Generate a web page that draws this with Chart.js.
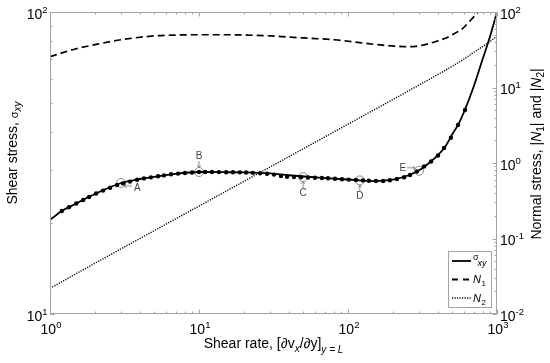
<!doctype html>
<html>

<head>
    <meta charset="utf-8">
    <title>Shear stress</title>
    <script src="https://cdn.jsdelivr.net/npm/chart.js"></script>
    <style>
        body { margin: 0; background: #fff; }
        #wrap { width: 550px; height: 363px; }
    </style>
</head>

<body>
    <div id="wrap"><canvas id="grafico"></canvas></div>

    <script>
        // shear stress curve (left axis)
        var sigmaX = [1, 1.2, 1.5, 2, 3, 4, 5, 7, 10, 15, 20, 25, 30, 40, 60, 80, 100, 150, 200, 250, 300, 350, 400, 450, 500, 550, 600, 700, 800, 900, 1000];
        var sigmaLinha = [20.48, 21.94, 23.22, 24.97, 27.15, 27.99, 28.44, 29.12, 29.53, 29.48, 29.43, 29.35, 29.2, 28.8, 28.35, 28.07, 27.88, 27.56, 27.86, 28.69, 29.9, 31.64, 33.49, 35.86, 39.3, 42.45, 46.58, 56.9, 69.7, 83.3, 100];

        // simulation points on the shear stress curve
        var pontosX = [1.2, 1.34, 1.5, 1.67, 1.83, 2.04, 2.27, 2.53, 2.82, 3.09, 3.44, 3.84, 4.27, 4.76, 5.31, 5.82, 6.49, 7.23, 8.05, 8.97,
            10, 11, 12.2, 13.6, 15.2, 16.9, 18.8, 20.7, 23, 25.7, 28.6, 31.9, 35.5, 39, 43.4, 48.4, 53.9, 60, 66.9, 73.4,
            81.8, 91.1, 101, 113, 126, 138, 154, 172, 191, 213, 238, 261, 290, 324, 361, 402, 441, 491, 547, 610];
        var pontosSigma = [21.94, 22.57, 23.22, 23.85, 24.4, 25.06, 25.62, 26.17, 26.74, 27.07, 27.44, 27.82, 28.12, 28.35, 28.58, 28.77, 29.02, 29.17, 29.29, 29.42,
            29.53, 29.53, 29.52, 29.5, 29.48, 29.46, 29.45, 29.42, 29.33, 29.26, 29.15, 28.95, 28.64, 28.49, 28.42, 28.36, 28.31, 28.25, 28.2, 28.14,
            28.05, 27.95, 27.86, 27.78, 27.69, 27.63, 27.56, 27.56, 27.73, 27.99, 28.38, 28.86, 29.64, 30.81, 31.99, 33.49, 35.46, 38.35, 42.26, 47.36];

        // normal stresses (right axis)
        var n1X = [1, 1.5, 2, 3, 5, 7, 10, 15, 20, 30, 50, 85, 120, 165, 210, 260, 300, 355, 400, 460, 520, 590, 660, 735, 750];
        var n1 = [25.6, 32.6, 36.9, 42.9, 48.2, 49.5, 50, 50, 49.5, 48.3, 45.3, 42.6, 39.2, 36.6, 35.3, 34.7, 35.6, 38.5, 41.5, 45.7, 52, 60.8, 76.4, 96, 100];
        var n2X = [1, 2, 5, 10, 20, 50, 100, 200, 300, 400, 500, 600, 700, 800, 900, 1000];
        var n2 = [0.0219, 0.0469, 0.127, 0.269, 0.57, 1.54, 3.27, 6.93, 10.8, 14.8, 19.1, 23.8, 29.3, 34.8, 40.8, 47.8];

        // marked states A-E
        var marcaNomes = ['A', 'B', 'C', 'D', 'E'];
        var marcaX = [3, 10, 50, 120, 300];
        var marcaY = [27.15, 29.53, 28.4, 27.7, 29.8];

        // tick labels (10^n)
        var xTicks = [1, 10, 100, 1000];
        var xExp = ['0', '1', '2', '3'];
        var yTicks = [10, 100];
        var yExp = ['1', '2'];
        var y2Ticks = [0.01, 0.1, 1, 10, 100];
        var y2Exp = ['-2', '-1', '0', '1', '2'];

        var FONTE = '"Liberation Sans", Arial, sans-serif';
        var CINZA = '#a4a4a4';

        function pares(xs, ys) {
            return xs.map(function (x, i) { return { x: x, y: ys[i] }; });
        }

        function potencia(ctx, exp, x, y, alinha) {
            ctx.font = '14px ' + FONTE;
            var w1 = ctx.measureText('10').width;
            ctx.font = '9.5px ' + FONTE;
            var w2 = ctx.measureText(exp).width;
            var x0 = alinha == 'center' ? x - (w1 + w2) / 2 : (alinha == 'right' ? x - w1 - w2 : x);
            ctx.font = '14px ' + FONTE;
            ctx.fillText('10', x0, y);
            ctx.font = '9.5px ' + FONTE;
            ctx.fillText(exp, x0 + w1, y - 6);
        }

        // parts: [text, size, style, dy]
        function textoRico(ctx, partes, x, y) {
            var total = 0;
            partes.forEach(function (p) {
                ctx.font = (p[2] || '') + ' ' + p[1] + 'px ' + FONTE;
                total += ctx.measureText(p[0]).width;
            });
            var cx = x - total / 2;
            partes.forEach(function (p) {
                ctx.font = (p[2] || '') + ' ' + p[1] + 'px ' + FONTE;
                ctx.fillText(p[0], cx, y + (p[3] || 0));
                cx += ctx.measureText(p[0]).width;
            });
        }

        function seta(ctx, x1, y1, x2, y2) {
            var a = Math.atan2(y2 - y1, x2 - x1);
            ctx.beginPath();
            ctx.moveTo(x1, y1);
            ctx.lineTo(x2, y2);
            ctx.moveTo(x2 - 3 * Math.cos(a - 0.6), y2 - 3 * Math.sin(a - 0.6));
            ctx.lineTo(x2, y2);
            ctx.lineTo(x2 - 3 * Math.cos(a + 0.6), y2 - 3 * Math.sin(a + 0.6));
            ctx.stroke();
        }

        function marcasLog(min, max) {
            var lista = [];
            for (var d = min; d < max * 1.001; d *= 10) {
                for (var m = 1; m <= 9; m++) {
                    var v = m * d;
                    if (v > max * 1.001) break;
                    lista.push({ v: v, major: m == 1 });
                }
            }
            return lista;
        }

        var moldura = {
            id: 'moldura',
            afterDraw: function (chart) {
                var ctx = chart.ctx;
                var a = chart.chartArea;
                var sx = chart.scales.x, sy = chart.scales.y, sy2 = chart.scales.y2;
                ctx.save();

                // frame and inward ticks
                ctx.strokeStyle = CINZA;
                ctx.lineWidth = 1;
                ctx.setLineDash([]);
                ctx.strokeRect(a.left + 0.5, a.top + 0.5, a.right - a.left - 1, a.bottom - a.top - 1);
                ctx.beginPath();
                marcasLog(1, 1000).forEach(function (t) {
                    var p = Math.round(sx.getPixelForValue(t.v)) + 0.5;
                    var L = t.major ? 4.5 : 2.5;
                    ctx.moveTo(p, a.bottom); ctx.lineTo(p, a.bottom - L);
                    ctx.moveTo(p, a.top); ctx.lineTo(p, a.top + L);
                });
                marcasLog(10, 100).forEach(function (t) {
                    var p = Math.round(sy.getPixelForValue(t.v)) + 0.5;
                    ctx.moveTo(a.left, p); ctx.lineTo(a.left + (t.major ? 4.5 : 2.5), p);
                });
                marcasLog(0.01, 100).forEach(function (t) {
                    var p = Math.round(sy2.getPixelForValue(t.v)) + 0.5;
                    ctx.moveTo(a.right, p); ctx.lineTo(a.right - (t.major ? 4.5 : 2.5), p);
                });
                ctx.stroke();

                // tick labels
                ctx.fillStyle = '#000';
                ctx.textAlign = 'left';
                ctx.textBaseline = 'alphabetic';
                xTicks.forEach(function (v, i) {
                    potencia(ctx, xExp[i], sx.getPixelForValue(v) + 1, a.bottom + 20, 'center');
                });
                yTicks.forEach(function (v, i) {
                    potencia(ctx, yExp[i], a.left - 2.5, sy.getPixelForValue(v) + 7, 'right');
                });
                y2Ticks.forEach(function (v, i) {
                    potencia(ctx, y2Exp[i], a.right + 3, sy2.getPixelForValue(v) + 6.5, 'left');
                });

                // axis titles
                textoRico(ctx, [['Shear rate, [\u2202v', 14], ['x', 10, 'italic', 4], ['/\u2202y]', 14], ['y = L', 10, 'italic', 5]],
                    (a.left + a.right) / 2, a.bottom + 34);
                ctx.save();
                ctx.translate(17, 153);
                ctx.rotate(-Math.PI / 2);
                textoRico(ctx, [['Shear stress, ', 14], ['\u03c3', 11, '', 1], ['xy', 10, 'italic', 4]], 0, 0);
                ctx.restore();
                ctx.save();
                ctx.translate(541, 154);
                ctx.rotate(-Math.PI / 2);
                textoRico(ctx, [['Normal stress, |', 14], ['N', 14, 'italic'], ['1', 10, '', 3], ['| and |', 14], ['N', 14, 'italic'], ['2', 10, '', 3], ['|', 14]], 0, 0);
                ctx.restore();

                // legend
                var bx = 448.5, by = 251.5;
                ctx.fillStyle = '#fff';
                ctx.fillRect(bx, by, 43, 56);
                ctx.strokeStyle = CINZA;
                ctx.strokeRect(bx, by, 43, 56);
                ctx.strokeStyle = '#000';
                ctx.lineWidth = 1.8;
                ctx.beginPath(); ctx.moveTo(452, 261); ctx.lineTo(471, 261); ctx.stroke();
                ctx.setLineDash([6, 5]);
                ctx.beginPath(); ctx.moveTo(452, 279.5); ctx.lineTo(471, 279.5); ctx.stroke();
                ctx.lineWidth = 1.4;
                ctx.setLineDash([1.2, 1.3]);
                ctx.beginPath(); ctx.moveTo(452, 298); ctx.lineTo(471, 298); ctx.stroke();
                ctx.setLineDash([]);
                ctx.fillStyle = '#000';
                ctx.textAlign = 'left';
                ctx.font = '9px ' + FONTE;
                ctx.fillText('\u03c3', 473, 260);
                ctx.font = 'italic 9px ' + FONTE;
                ctx.fillText('xy', 477.5, 266);
                ctx.font = 'italic 11px ' + FONTE;
                ctx.fillText('N', 473, 283);
                ctx.fillText('N', 473, 302);
                ctx.font = '8px ' + FONTE;
                ctx.fillText('1', 481.5, 286);
                ctx.fillText('2', 481.5, 305);

                // labels of marked states
                var lados = ['direita', 'cima', 'baixo', 'baixo', 'esquerda'];
                ctx.strokeStyle = '#777';
                ctx.fillStyle = '#444';
                ctx.lineWidth = 0.8;
                ctx.font = '10px ' + FONTE;
                chart.getDatasetMeta(4).data.forEach(function (pt, i) {
                    var cx = pt.x, cy = pt.y;
                    if (lados[i] == 'direita') {
                        seta(ctx, cx + 11, cy + 3, cx + 3, cy + 3);
                        ctx.textAlign = 'left';
                        ctx.fillText(marcaNomes[i], cx + 13, cy + 7.5);
                    } else if (lados[i] == 'cima') {
                        seta(ctx, cx, cy - 11, cx, cy - 4.5);
                        ctx.textAlign = 'center';
                        ctx.fillText(marcaNomes[i], cx, cy - 12.5);
                    } else if (lados[i] == 'baixo') {
                        seta(ctx, cx, cy + 11, cx, cy + 4.5);
                        ctx.textAlign = 'center';
                        ctx.fillText(marcaNomes[i], cx, cy + 19);
                    } else {
                        seta(ctx, cx - 12, cy - 3, cx - 4, cy - 3);
                        ctx.textAlign = 'right';
                        ctx.fillText(marcaNomes[i], cx - 13, cy + 0.5);
                    }
                });
                ctx.restore();
            }
        };

        var grafico = new Chart(document.getElementById('grafico').getContext('2d'), {
            type: 'scatter',
            data: {
                datasets: [{
                    label: 'sigma_xy',
                    data: pares(sigmaX, sigmaLinha),
                    showLine: true,
                    borderColor: '#000',
                    borderWidth: 1.8,
                    pointRadius: 0,
                    cubicInterpolationMode: 'monotone',
                    yAxisID: 'y'
                }, {
                    label: 'N1',
                    data: pares(n1X, n1),
                    showLine: true,
                    borderColor: '#000',
                    borderWidth: 1.7,
                    borderDash: [7, 4],
                    pointRadius: 0,
                    cubicInterpolationMode: 'monotone',
                    yAxisID: 'y2'
                }, {
                    label: 'N2',
                    data: pares(n2X, n2),
                    showLine: true,
                    borderColor: '#000',
                    borderWidth: 1.4,
                    borderDash: [1.2, 1.3],
                    pointRadius: 0,
                    cubicInterpolationMode: 'monotone',
                    yAxisID: 'y2'
                }, {
                    label: 'pontos',
                    data: pares(pontosX, pontosSigma),
                    pointRadius: 2.2,
                    borderWidth: 0,
                    backgroundColor: '#000',
                    yAxisID: 'y'
                }, {
                    label: 'marcas',
                    data: pares(marcaX, marcaY),
                    pointRadius: 4.5,
                    borderWidth: 1,
                    borderColor: '#8a8a8a',
                    backgroundColor: 'rgba(0,0,0,0)',
                    yAxisID: 'y'
                }]
            },
            options: {
                responsive: true,
                maintainAspectRatio: false,
                animation: false,
                layout: { padding: { left: 50, right: 53, top: 12, bottom: 49 } },
                plugins: { legend: { display: false }, tooltip: { enabled: false } },
                scales: {
                    x: { type: 'logarithmic', min: 1, max: 1000, display: false },
                    y: { type: 'logarithmic', min: 10, max: 100, display: false },
                    y2: { type: 'logarithmic', min: 0.01, max: 100, display: false, position: 'right' }
                }
            },
            plugins: [moldura]
        });
    </script>
</body>

</html>
